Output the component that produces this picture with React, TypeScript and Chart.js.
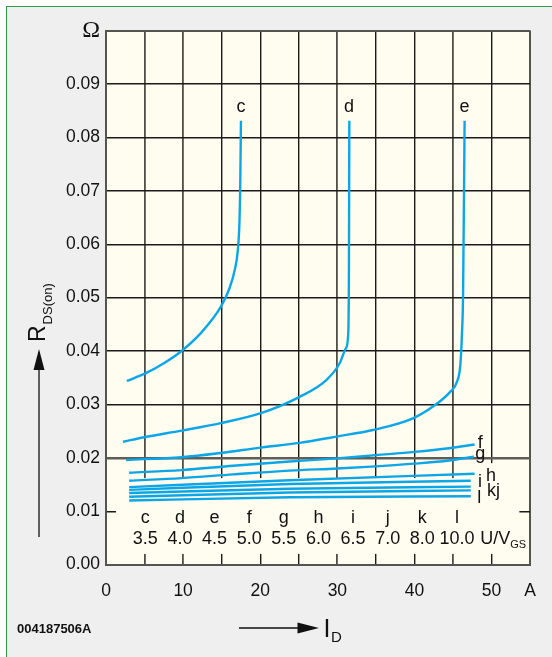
import { useEffect, useRef } from 'react';
import { Chart, registerables } from 'chart.js';

Chart.register(...registerables);

// ---- data (I_D in A, R_DS(on) in Ohm) ----
const cX = [2.7, 5.1, 7.5, 9.8, 12.2, 14.9, 16.0, 16.7, 17.1, 17.3, 17.4, 17.5];
const cY = [0.0344, 0.0358, 0.0377, 0.0400, 0.0432, 0.0483, 0.0517, 0.0552, 0.0590, 0.0640, 0.0705, 0.0831];

const dX = [2.2, 5.1, 9.8, 14.9, 20.0, 25.1, 28.6, 30.3, 31.1, 31.4, 31.5, 31.55];
const dY = [0.0230, 0.0239, 0.0251, 0.0265, 0.0283, 0.0314, 0.0346, 0.0377, 0.0405, 0.0430, 0.0550, 0.0831];

const eX = [2.6, 9.8, 14.9, 20.0, 25.1, 30.0, 34.6, 39.8, 42.4, 44.6, 45.5, 45.95, 46.15, 46.3, 46.5];
const eY = [0.0196, 0.0201, 0.0209, 0.0219, 0.0228, 0.0240, 0.0252, 0.0274, 0.0296, 0.0323, 0.0342, 0.0375, 0.0430, 0.0505, 0.0831];

const fX = [3.0, 9.8, 16.5, 23.8, 30.0, 35.0, 40.0, 44.5, 47.8];
const fY = [0.0172, 0.0177, 0.0185, 0.0193, 0.0199, 0.0205, 0.0211, 0.0218, 0.0225];

const gX = [3.0, 9.8, 16.5, 23.8, 30.0, 35.0, 40.0, 44.5, 47.7];
const gY = [0.0157, 0.0162, 0.0169, 0.0176, 0.0180, 0.0184, 0.0189, 0.0195, 0.0202];

const hX = [3.0, 23.8, 47.8];
const hY = [0.0145, 0.0158, 0.0170];

const iX = [3.0, 23.8, 47.3];
const iY = [0.0140, 0.0151, 0.0157];

const jX = [3.0, 23.8, 47.3];
const jY = [0.0134, 0.0142, 0.0146];

const kX = [3.0, 23.8, 47.3];
const kY = [0.0127, 0.0135, 0.0139];

const lX = [3.0, 23.8, 47.3];
const lY = [0.0120, 0.0126, 0.0128];

const curveNames = ['c', 'd', 'e', 'f', 'g', 'h', 'i', 'j', 'k', 'l'];
const curveXs = [cX, dX, eX, fX, gX, hX, iX, jX, kX, lX];
const curveYs = [cY, dY, eY, fY, gY, hY, iY, jY, kY, lY];

// gate voltage legend
const gateLetters = ['c', 'd', 'e', 'f', 'g', 'h', 'i', 'j', 'k', 'l'];
const gateVoltages = ['3.5', '4.0', '4.5', '5.0', '5.5', '6.0', '6.5', '7.0', '8.0', '10.0'];

// axis
const X_MAX = 55;
const Y_MAX = 0.1;

// ---- layout / style ----
const CREAM = '#fffdf0';
const BLUE = '#0ca6e6';
const INK = '#111111';
const SANS = '"Liberation Sans", Arial, sans-serif';

// label anchors (data units) for curve names
const topLabels = [
  { t: 'c', x: 17.5, y: 0.0848 },
  { t: 'd', x: 31.5, y: 0.0848 },
  { t: 'e', x: 46.5, y: 0.0848 },
];
const sideLabels = [
  { t: 'f', x: 48.53, y: 0.0218 },
  { t: 'g', x: 48.53, y: 0.0197 },
  { t: 'i', x: 48.49, y: 0.0146 },
  { t: 'h', x: 49.92, y: 0.01572 },
  { t: 'kj', x: 50.25, y: 0.0129 },
  { t: 'l', x: 48.4, y: 0.01149 },
];
const LEGEND_X0 = 5.1;
const LEGEND_DX = 4.49;
const LEGEND_LETTER_Y = 0.00774;
const LEGEND_VALUE_Y = 0.00386;

function drawText(ctx: CanvasRenderingContext2D, s: string, x: number, y: number, font: string, align: CanvasTextAlign = 'center') {
  ctx.font = font;
  ctx.textAlign = align;
  ctx.textBaseline = 'alphabetic';
  ctx.fillStyle = INK;
  ctx.fillText(s, x, y);
}

const decor = {
  id: 'decor',
  beforeDraw(chart: any) {
    const { ctx, chartArea: a } = chart;
    ctx.save();
    ctx.fillStyle = CREAM;
    ctx.fillRect(a.left, a.top, a.right - a.left, a.bottom - a.top);
    ctx.restore();
  },
  beforeDatasetsDraw(chart: any) {
    const { ctx } = chart;
    const xs = chart.scales.x;
    const ys = chart.scales.y;
    const rect = (x0: number, x1: number, y0: number, y1: number) => {
      const px0 = xs.getPixelForValue(x0);
      const px1 = xs.getPixelForValue(x1);
      const py0 = ys.getPixelForValue(y0);
      const py1 = ys.getPixelForValue(y1);
      ctx.fillRect(px0, py1, px1 - px0, py0 - py1);
    };
    ctx.save();
    ctx.fillStyle = CREAM;
    rect(1.3, 53.6, 0.0020, 0.0162);
    rect(49.3, 51.3, 0.0122, 0.0190);
    ctx.restore();
  },
  afterDatasetsDraw(chart: any) {
    const { ctx } = chart;
    const xs = chart.scales.x;
    const ys = chart.scales.y;
    const px = (v: number) => xs.getPixelForValue(v);
    const py = (v: number) => ys.getPixelForValue(v);
    ctx.save();
    const f18 = `18px ${SANS}`;
    topLabels.forEach((l) => drawText(ctx, l.t, px(l.x), py(l.y), f18));
    sideLabels.forEach((l) => drawText(ctx, l.t, px(l.x), py(l.y), f18));
    gateLetters.forEach((t, i) => drawText(ctx, t, px(LEGEND_X0 + i * LEGEND_DX), py(LEGEND_LETTER_Y), f18));
    gateVoltages.forEach((t, i) => drawText(ctx, t, px(LEGEND_X0 + i * LEGEND_DX), py(LEGEND_VALUE_Y), f18));
    // U/V_GS
    const ux = px(48.53);
    const uy = py(LEGEND_VALUE_Y);
    ctx.font = f18;
    const w = ctx.measureText('U/V').width;
    drawText(ctx, 'U/V', ux, uy, f18, 'left');
    drawText(ctx, 'GS', ux + w, uy + 4, `11px ${SANS}`, 'left');
    ctx.restore();
  },
  afterDraw(chart: any) {
    const { ctx } = chart;
    ctx.save();
    // R_DS(on) rotated
    ctx.translate(45, 342);
    ctx.rotate(-Math.PI / 2);
    ctx.font = `23px ${SANS}`;
    const rw = ctx.measureText('R').width;
    drawText(ctx, 'R', 0, 0, `23px ${SANS}`, 'left');
    drawText(ctx, 'DS(on)', rw + 1, 7, `13px ${SANS}`, 'left');
    ctx.restore();

    ctx.save();
    ctx.strokeStyle = INK;
    ctx.fillStyle = INK;
    ctx.lineWidth = 1.3;
    // vertical arrow
    ctx.beginPath();
    ctx.moveTo(39, 537);
    ctx.lineTo(39, 368);
    ctx.stroke();
    ctx.beginPath();
    ctx.moveTo(39, 349);
    ctx.lineTo(44.5, 370);
    ctx.lineTo(33.5, 370);
    ctx.closePath();
    ctx.fill();
    // horizontal arrow
    ctx.beginPath();
    ctx.moveTo(239, 628);
    ctx.lineTo(300, 628);
    ctx.stroke();
    ctx.beginPath();
    ctx.moveTo(319, 628);
    ctx.lineTo(297.5, 622.5);
    ctx.lineTo(297.5, 633.5);
    ctx.closePath();
    ctx.fill();
    ctx.restore();

    ctx.save();
    drawText(ctx, 'I', 323.5, 637, `25px ${SANS}`, 'left');
    drawText(ctx, 'D', 331, 642, `15px ${SANS}`, 'left');
    drawText(ctx, '004187506A', 17, 633.3, `bold 13px ${SANS}`, 'left');
    ctx.restore();
  },
};

const isNear = (a: number, b: number) => Math.abs(a - b) < 1e-9;

export default function App() {
  const ref = useRef<HTMLCanvasElement | null>(null);

  useEffect(() => {
    if (!ref.current) return;
    const datasets = curveNames.map((name, idx) => ({
      label: name,
      data: curveXs[idx].map((x, i) => ({ x, y: curveYs[idx][i] })),
      borderColor: BLUE,
      backgroundColor: BLUE,
      borderWidth: 2.4,
      pointRadius: 0,
      cubicInterpolationMode: 'monotone' as const,
      fill: false,
    }));

    const chart = new Chart(ref.current, {
      type: 'line',
      data: { datasets },
      plugins: [decor],
      options: {
        responsive: false,
        animation: false,
        devicePixelRatio: 1,
        layout: { padding: { top: 30.6, left: 0, right: 21, bottom: 52.4 } },
        plugins: { legend: { display: false }, tooltip: { enabled: false } },
        scales: {
          x: {
            type: 'linear',
            min: 0,
            max: X_MAX,
            afterFit: (s: any) => { s.height = 40; },
            border: { color: '#555550', width: 2 },
            grid: {
              drawTicks: false,
              color: (c: any) => {
                const v = c.tick ? c.tick.value : 0;
                if (v === 0 || v === X_MAX) return '#555550';
                if (v === 5 || v === 10 || v === 30 || v === 45) return '#4f4f48';
                return '#1a1a1a';
              },
              lineWidth: (c: any) => {
                const v = c.tick ? c.tick.value : 0;
                if (v === 0 || v === X_MAX) return 2;
                if (v === 5 || v === 10 || v === 30 || v === 45) return 1.8;
                return 1.4;
              },
            },
            ticks: {
              stepSize: 5,
              autoSkip: false,
              maxRotation: 0,
              padding: 16,
              color: INK,
              font: { family: SANS, size: 17.5 },
              callback: (v: any) => (v === X_MAX ? 'A' : v % 10 === 0 ? String(v) : ''),
            },
          },
          y: {
            type: 'linear',
            min: 0,
            max: Y_MAX,
            afterFit: (s: any) => { s.width = 106; },
            border: { color: '#555550', width: 2 },
            grid: {
              drawTicks: false,
              color: (c: any) => {
                const v = c.tick ? c.tick.value : 0;
                if (isNear(v, 0) || isNear(v, Y_MAX)) return '#555550';
                if (isNear(v, 0.02)) return '#5e5e56';
                return '#1a1a1a';
              },
              lineWidth: (c: any) => {
                const v = c.tick ? c.tick.value : 0;
                if (isNear(v, 0) || isNear(v, Y_MAX)) return 2;
                if (isNear(v, 0.02)) return 2.6;
                return 1.4;
              },
            },
            ticks: {
              stepSize: 0.01,
              autoSkip: false,
              padding: 6,
              color: INK,
              font: (c: any) =>
                c.tick && isNear(c.tick.value, Y_MAX)
                  ? { family: '"Liberation Serif", "Times New Roman", serif', size: 24 }
                  : { family: SANS, size: 17.5 },
              callback: (v: any) => (isNear(v, Y_MAX) ? 'Ω' : Number(v).toFixed(2)),
            },
          },
        },
      },
    });
    return () => chart.destroy();
  }, []);

  return (
    <div style={{ position: 'absolute', left: 0, top: 0, width: 552, height: 657, background: '#ffffff', overflow: 'hidden' }}>
      <div
        style={{
          position: 'absolute',
          left: 6,
          top: 6,
          width: 546,
          height: 651,
          boxSizing: 'border-box',
          borderLeft: '1.5px solid #2f9a4b',
          borderTop: '1.5px solid #2f9a4b',
          background: '#efefef',
        }}
      />
      <canvas ref={ref} width={552} height={657} style={{ position: 'absolute', left: 0, top: 0, width: 552, height: 657 }} />
    </div>
  );
}
